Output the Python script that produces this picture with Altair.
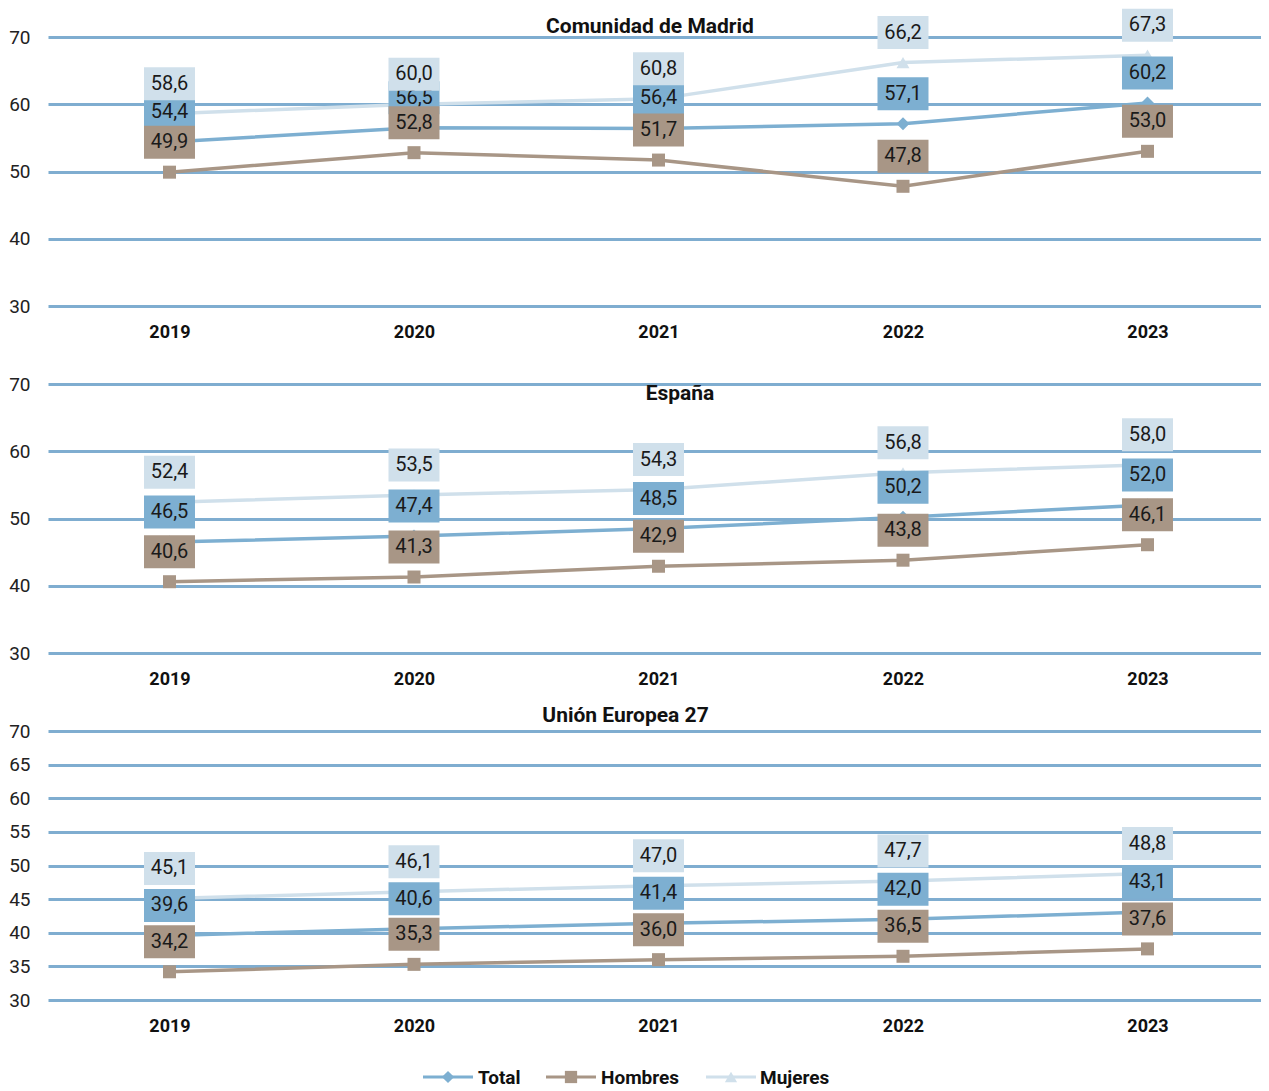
import altair as alt
import pandas as pd

years = ["2019", "2020", "2021", "2022", "2023"]
series = ["Total", "Hombres", "Mujeres"]
colors = ["#7DAFD1", "#A89686", "#D0E0EB"]
marker_shapes = ["diamond", "square", "triangle-up"]

madrid_total = [54.4, 56.5, 56.4, 57.1, 60.2]
madrid_hombres = [49.9, 52.8, 51.7, 47.8, 53.0]
madrid_mujeres = [58.6, 60.0, 60.8, 66.2, 67.3]

espana_total = [46.5, 47.4, 48.5, 50.2, 52.0]
espana_hombres = [40.6, 41.3, 42.9, 43.8, 46.1]
espana_mujeres = [52.4, 53.5, 54.3, 56.8, 58.0]

ue_total = [39.6, 40.6, 41.4, 42.0, 43.1]
ue_hombres = [34.2, 35.3, 36.0, 36.5, 37.6]
ue_mujeres = [45.1, 46.1, 47.0, 47.7, 48.8]

ticks_10 = [30, 40, 50, 60, 70]
ticks_5 = [30, 35, 40, 45, 50, 55, 60, 65, 70]

FONT = "Roboto"
GRID = "#7FADD0"
RECT_PATH = "M-1,-0.647H1V0.647H-1Z"

W = 1213
H = 269

# legend layout (pixels relative to the last panel's plot area)
LEG_Y = H + 77
LEG_SYMBOL_CENTER = [400, 523, 683]
LEG_HALF = 25
LEG_LABEL_X = [430, 553, 712]


def legend_layers():
    out = []
    for s, c, shp, xc, xl in zip(series, colors, marker_shapes,
                                 LEG_SYMBOL_CENTER, LEG_LABEL_X):
        d = alt.Chart(pd.DataFrame({"serie": [s]}))
        out.append(d.mark_rule(color=c, strokeWidth=3).encode(
            x=alt.value(xc - LEG_HALF), x2=alt.value(xc + LEG_HALF), y=alt.value(LEG_Y)))
        out.append(d.mark_point(shape=shp, size=150, filled=True, opacity=1,
                                color=c).encode(x=alt.value(xc), y=alt.value(LEG_Y)))
        out.append(d.mark_text(align="left", baseline="middle", font=FONT,
                               fontSize=19, fontWeight="bold", color="#111").encode(
            text="serie:N", x=alt.value(xl), y=alt.value(LEG_Y + 1)))
    return out


def panel(title, tot, hom, muj, ticks, dx, toff, show_legend):
    df = pd.DataFrame({
        "year": years * 3,
        "serie": [s for s in series for _ in years],
        "value": tot + hom + muj,
    })
    x = alt.X("year:O",
              scale=alt.Scale(type="point", padding=0.4806, align=0.517),
              axis=alt.Axis(title=None, labelAngle=0, domain=False, ticks=False,
                            labelFont=FONT, labelFontSize=18, labelFontWeight="bold",
                            labelColor="#111", labelPadding=17))
    y = alt.Y("value:Q",
              scale=alt.Scale(domain=[30, 70], nice=False, zero=False),
              axis=alt.Axis(title=None, values=ticks, domain=False, ticks=False,
                            grid=True, gridColor=GRID, gridWidth=3,
                            labelFont=FONT, labelFontSize=19, labelColor="#222",
                            labelPadding=18))
    base = alt.Chart(df).encode(x=x, y=y)
    lines = base.mark_line(strokeWidth=3.5).encode(
        color=alt.Color("serie:N", scale=alt.Scale(domain=series, range=colors),
                        legend=None))
    layers = [lines]
    for s, c, shp in zip(series, colors, marker_shapes):
        layers.append(base.transform_filter(alt.datum.serie == s).mark_point(
            shape=shp, size=169, filled=True, opacity=1, color=c))
    for s, c in zip(series, colors):
        sub = base.transform_filter(alt.datum.serie == s)
        box = sub.mark_point(shape=RECT_PATH, size=2601, filled=True, opacity=1,
                             color=c, yOffset=-30)
        txt = sub.transform_calculate(
            lbl="replace(format(datum.value, '.1f'), '.', ',')"
        ).mark_text(yOffset=-30, fontSize=20, font=FONT, color="#1a1a1a",
                    baseline="middle").encode(text="lbl:N")
        layers += [box, txt]
    if show_legend:
        layers += legend_layers()
    return alt.layer(*layers).properties(
        width=W, height=H,
        title=alt.TitleParams(title, font=FONT, fontSize=21, fontWeight="bold",
                              color="#111", anchor="middle", frame="group",
                              baseline="middle", dx=dx, offset=toff))


p1 = panel("Comunidad de Madrid", madrid_total, madrid_hombres, madrid_mujeres,
           ticks_10, -4.5, -39, False)
p2 = panel("España", espana_total, espana_hombres, espana_mujeres,
           ticks_10, 25.5, -40, False)
p3 = panel("Unión Europea 27", ue_total, ue_hombres, ue_mujeres,
           ticks_5, -29, -15, True)

chart = alt.vconcat(p1, p2, p3, spacing=78, bounds="flush").properties(
    padding={"left": 0, "top": 0, "right": 0, "bottom": 0}
).configure_view(stroke=None)

chart.save("out.html", embed_options={"renderer": "svg", "actions": False})
